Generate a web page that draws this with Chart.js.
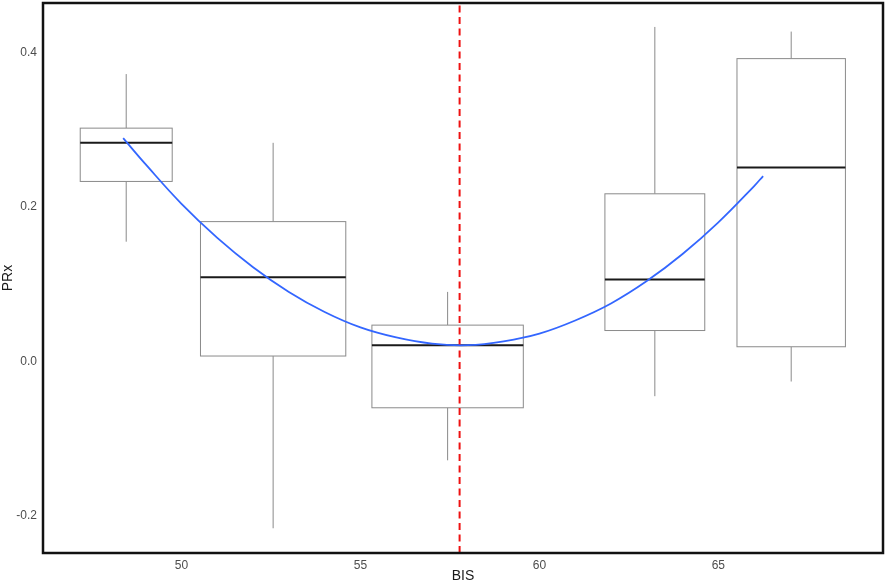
<!DOCTYPE html>
<html>
<head>
<meta charset="utf-8">
<script src="https://cdn.jsdelivr.net/npm/chart.js@4.4.0/dist/chart.umd.min.js"></script>
<style>
    html, body { margin: 0; padding: 0; background: #fff; }
    #wrap { width: 886px; height: 586px; }
</style>
</head>
<body>
<div id="wrap"><canvas id="prxChart" width="886" height="586"></canvas></div>
<script>
// Box plot values (PRx by BIS bins)
const boxLeft = [47.17, 50.53, 55.32, 61.83, 65.52];
const boxRight = [49.74, 54.59, 59.55, 64.62, 68.55];
const whiskerHigh = [0.372, 0.283, 0.090, 0.433, 0.427];
const q3 = [0.302, 0.181, 0.047, 0.217, 0.392];
const medians = [0.283, 0.109, 0.021, 0.106, 0.251];
const q1 = [0.233, 0.007, -0.060, 0.040, 0.019];
const whiskerLow = [0.155, -0.216, -0.128, -0.045, -0.026];

// Blue fitted curve, read at points along it
const curveX = [48.37, 49, 50, 51, 52, 53, 54, 55, 56, 57, 58, 59, 60, 61, 62, 63, 64, 65, 66, 66.25];
const curveY = [0.289, 0.255, 0.204, 0.160, 0.122, 0.090, 0.064, 0.044, 0.031, 0.023, 0.021, 0.026, 0.036, 0.053, 0.075, 0.104, 0.139, 0.180, 0.227, 0.240];

// Optimal BIS (red dashed line)
const optimalBIS = 57.77;

const xTicks = [50, 55, 60, 65];
const yTicks = [-0.2, 0.0, 0.2, 0.4];
const xRange = [46.13, 69.6];
const yRange = [-0.248, 0.464];

const boxPlugin = {
    id: 'boxes',
    beforeDatasetsDraw(chart) {
        const ctx = chart.ctx;
        const x = chart.scales.x;
        const y = chart.scales.y;
        ctx.save();
        for (let i = 0; i < boxLeft.length; i++) {
            const l = x.getPixelForValue(boxLeft[i]);
            const r = x.getPixelForValue(boxRight[i]);
            const c = x.getPixelForValue((boxLeft[i] + boxRight[i]) / 2);
            const top = y.getPixelForValue(q3[i]);
            const bot = y.getPixelForValue(q1[i]);
            ctx.strokeStyle = '#8a8a8a';
            ctx.lineWidth = 1;
            // whiskers
            ctx.beginPath();
            ctx.moveTo(c, y.getPixelForValue(whiskerHigh[i]));
            ctx.lineTo(c, top);
            ctx.moveTo(c, bot);
            ctx.lineTo(c, y.getPixelForValue(whiskerLow[i]));
            ctx.stroke();
            // box
            ctx.fillStyle = '#ffffff';
            ctx.fillRect(l, top, r - l, bot - top);
            ctx.strokeRect(l, top, r - l, bot - top);
            // median
            ctx.strokeStyle = '#1a1a1a';
            ctx.lineWidth = 2;
            const m = y.getPixelForValue(medians[i]);
            ctx.beginPath();
            ctx.moveTo(l, m);
            ctx.lineTo(r, m);
            ctx.stroke();
        }
        ctx.restore();
    },
    afterDraw(chart) {
        const ctx = chart.ctx;
        const a = chart.chartArea;
        ctx.save();
        ctx.strokeStyle = '#111111';
        ctx.lineWidth = 2.5;
        ctx.strokeRect(a.left, a.top, a.right - a.left, a.bottom - a.top);
        ctx.restore();
    }
};

const ctx = document.getElementById('prxChart').getContext('2d');
new Chart(ctx, {
    type: 'line',
    data: {
        datasets: [
            {
                label: 'fit',
                data: curveX.map((v, i) => ({ x: v, y: curveY[i] })),
                borderColor: '#3366FF',
                borderWidth: 1.8,
                pointRadius: 0,
                tension: 0.4,
                fill: false,
                order: 0
            },
            {
                label: 'optimal',
                data: [{ x: optimalBIS, y: yRange[0] }, { x: optimalBIS, y: yRange[1] }],
                borderColor: '#ee1111',
                borderWidth: 2,
                borderDash: [7, 4.5],
                pointRadius: 0,
                fill: false,
                order: 1
            }
        ]
    },
    plugins: [boxPlugin],
    options: {
        responsive: false,
        animation: false,
        layout: { padding: { left: 0, right: 3, top: 3, bottom: 0 } },
        plugins: {
            legend: { display: false },
            tooltip: { enabled: false }
        },
        scales: {
            x: {
                type: 'linear',
                min: xRange[0],
                max: xRange[1],
                grid: { display: false, drawTicks: false },
                border: { display: false },
                afterFit: (s) => { s.height = 33; s.paddingLeft = 0; s.paddingRight = 0; },
                afterBuildTicks: (s) => { s.ticks = xTicks.map(v => ({ value: v })); },
                ticks: {
                    padding: 5,
                    color: '#4d4d4d',
                    font: { family: "'Liberation Sans', Arial, sans-serif", size: 12 }
                },
                title: {
                    display: true,
                    text: 'BIS',
                    color: '#1a1a1a',
                    padding: { top: 0, bottom: 1 },
                    font: { family: "'Liberation Sans', Arial, sans-serif", size: 14 }
                }
            },
            y: {
                min: yRange[0],
                max: yRange[1],
                grid: { display: false, drawTicks: false },
                border: { display: false },
                afterFit: (s) => { s.width = 43; s.paddingTop = 0; s.paddingBottom = 0; },
                afterBuildTicks: (s) => { s.ticks = yTicks.map(v => ({ value: v })); },
                ticks: {
                    padding: 6,
                    color: '#4d4d4d',
                    font: { family: "'Liberation Sans', Arial, sans-serif", size: 12 },
                    callback: (v) => Number(v).toFixed(1)
                },
                title: {
                    display: true,
                    text: 'PRx',
                    color: '#1a1a1a',
                    padding: { top: 0, bottom: 2 },
                    font: { family: "'Liberation Sans', Arial, sans-serif", size: 14 }
                }
            }
        }
    }
});
</script>
</body>
</html>
